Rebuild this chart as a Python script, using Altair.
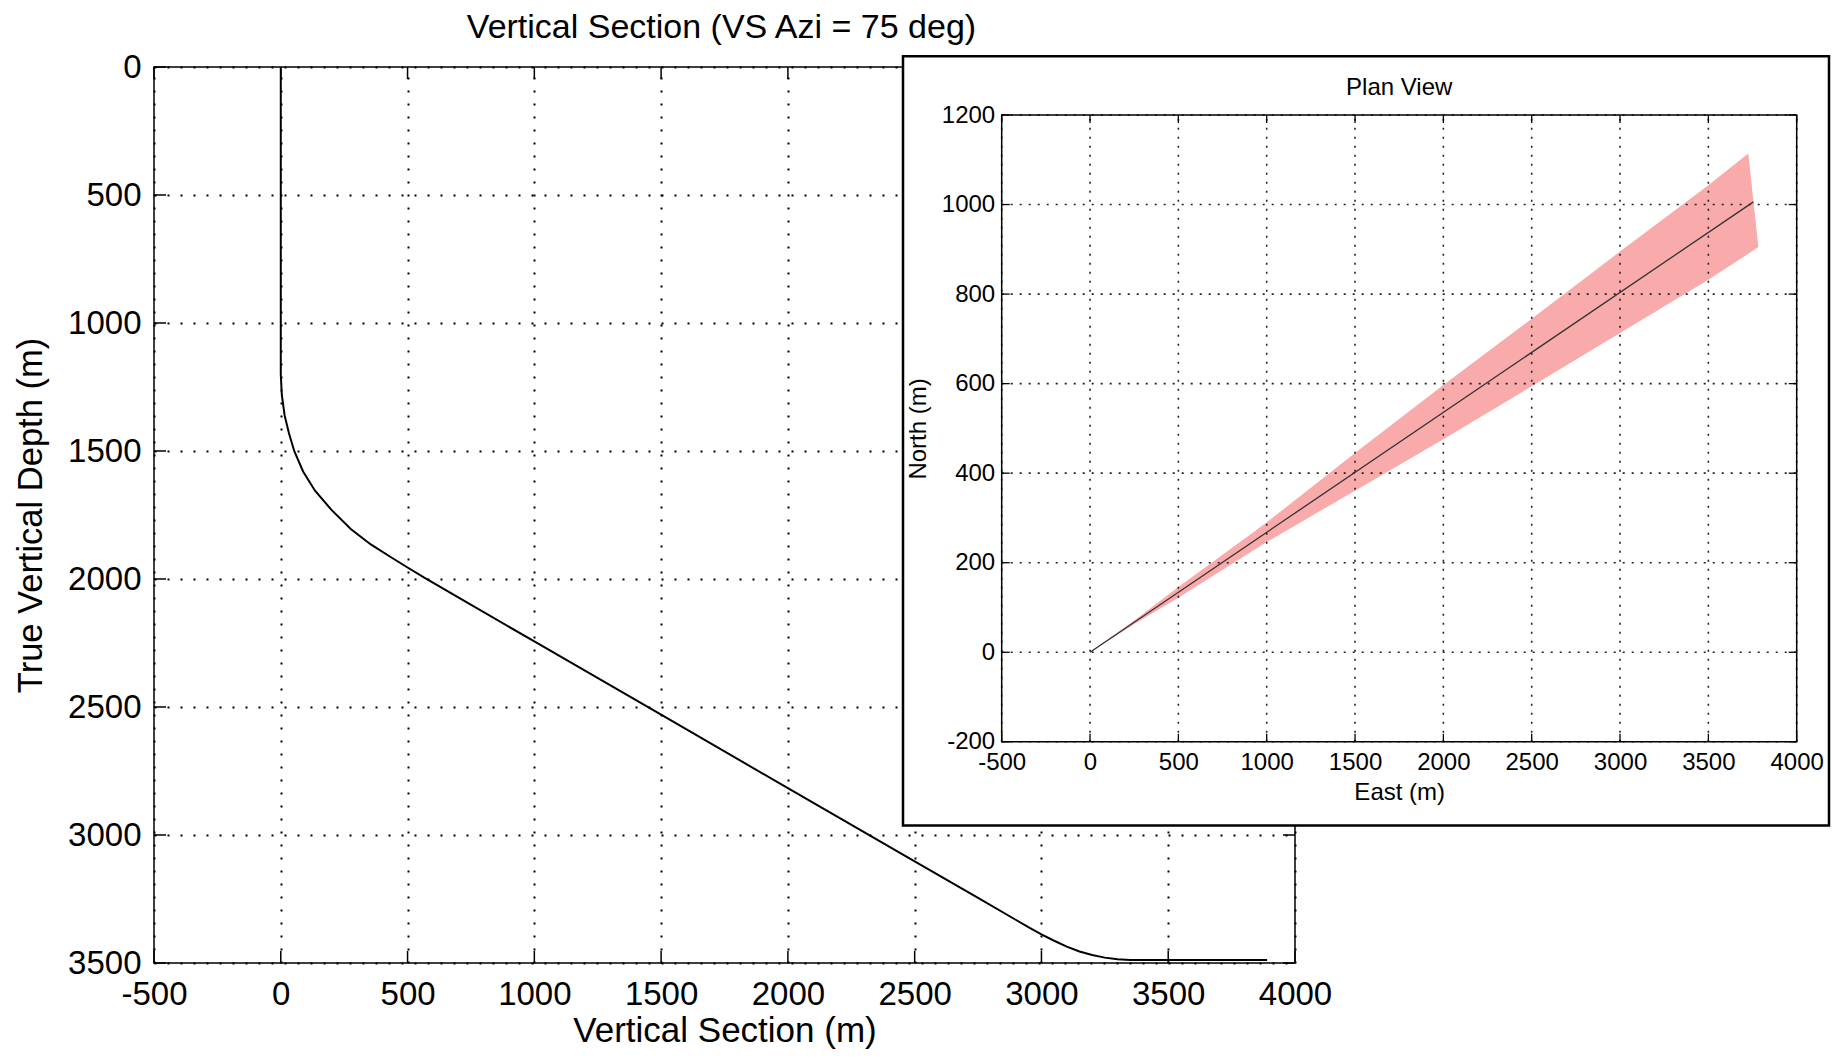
import altair as alt
import pandas as pd

# ---------------- data ----------------
vs_m = [0, 0, 4, 15, 32, 53, 88, 135, 200, 276, 355, 430, 500, 566, 700, 1000,
        1500, 2000, 2500, 2750, 2900, 2950, 3000, 3050, 3100, 3150, 3200, 3250,
        3300, 3350, 3890]
tvd_m = [0, 1200, 1280, 1360, 1430, 1500, 1580, 1655, 1730, 1805, 1865, 1912,
         1955, 1995, 2072, 2244, 2530, 2817, 3103, 3246, 3332, 3361, 3388, 3413,
         3436, 3455, 3469, 3479, 3485, 3488, 3488]

plan_east_m = [0, 3755]
plan_north_m = [0, 1006]

band_east_m = [0, 250, 500, 1000, 1500, 2000, 2500, 3000, 3500, 3726, 3783]
band_north_hi = [0, 71, 146, 290, 445, 597, 745, 895, 1043, 1114, 905]
band_north_lo = [0, 63, 122, 246, 361, 476, 594, 713, 832, 890, 905]

vs_ticks = [-500, 0, 500, 1000, 1500, 2000, 2500, 3000, 3500, 4000]
tvd_ticks = [0, 500, 1000, 1500, 2000, 2500, 3000, 3500]
east_ticks = [-500, 0, 500, 1000, 1500, 2000, 2500, 3000, 3500, 4000]
north_ticks = [-200, 0, 200, 400, 600, 800, 1000, 1200]

main_title = ["Vertical Section (VS Azi = 75 deg)"]
main_xtitle = "Vertical Section (m)"
main_ytitle = "True Vertical Depth (m)"
inset_title = ["Plan View"]
inset_xtitle = "East (m)"
inset_ytitle = "North (m)"

# ---------------- layout ----------------
FONT = "Liberation Sans"
W, H = 1141, 896
PAD_L, PAD_T = 146, 59
SVG_W, SVG_H = 1823, 1042
PAD_R = SVG_W - PAD_L - W
PAD_B = SVG_H - PAD_T - H

IX0, IX1 = 847.7, 1642.7      # inset plot area (view px)
IY0, IY1 = 674.8, 48.0        # bottom, top
BOX = dict(x0=749, x1=1675, y0=-10.7, y1=758.6)

PLAIN = "'' + datum.value"   # plain hyphen-minus labels

def mx():
    return alt.Scale(domain=[vs_ticks[0], vs_ticks[-1]], range=[0, W], nice=False, zero=False)
def my():
    return alt.Scale(domain=[tvd_ticks[0], tvd_ticks[-1]], range=[0, H], nice=False, zero=False)
def ix():
    return alt.Scale(domain=[east_ticks[0], east_ticks[-1]], range=[IX0, IX1], nice=False, zero=False)
def iy():
    return alt.Scale(domain=[north_ticks[0], north_ticks[-1]], range=[IY0, IY1], nice=False, zero=False)

# ---------------- main panel ----------------
df_main = pd.DataFrame({"vs": vs_m, "tvd": tvd_m, "i": list(range(len(vs_m)))})

x_axis_main = alt.Axis(
    values=vs_ticks, labelExpr=PLAIN, orient="bottom", grid=True, gridColor="black",
    gridDash=[2, 11], gridWidth=2, gridOpacity=1, domain=False, ticks=False, tickSize=0,
    labelFontSize=33, labelColor="black", labelPadding=31.5, labelBaseline="middle",
    labelFlush=False, labelOverlap=False, title=main_xtitle, titleFontSize=35,
    titleFontWeight="normal", titleColor="black", titleX=W / 2, titleY=67,
    titleBaseline="middle", titleAlign="center", zindex=0)
y_axis_main = alt.Axis(
    values=tvd_ticks, labelExpr=PLAIN, orient="left", grid=True, gridColor="black",
    gridDash=[2, 11], gridWidth=2, gridOpacity=1, domain=False, ticks=False, tickSize=0,
    labelFontSize=33, labelColor="black", labelPadding=13, labelBaseline="middle",
    labelFlush=False, labelOverlap=False, title=main_ytitle, titleFontSize=34.5,
    titleFontWeight="normal", titleColor="black", titleX=-123, titleY=H / 2,
    titleBaseline="middle", titleAlign="center", titleAngle=270, zindex=0)

main_line = alt.Chart(df_main).mark_line(color="black", strokeWidth=2).encode(
    x=alt.X("vs:Q", scale=mx(), axis=x_axis_main),
    y=alt.Y("tvd:Q", scale=my(), axis=y_axis_main),
    order="i:Q",
)

df_mframe = pd.DataFrame({"x0": [vs_ticks[0]], "x1": [vs_ticks[-1]],
                          "y0": [tvd_ticks[0]], "y1": [tvd_ticks[-1]]})
main_frame = alt.Chart(df_mframe).mark_rect(
    fillOpacity=0, stroke="black", strokeWidth=1.5).encode(
    x=alt.X("x0:Q", scale=mx(), axis=None), x2="x1:Q",
    y=alt.Y("y0:Q", scale=my(), axis=None), y2="y1:Q")

df_mxt = pd.DataFrame({"v": vs_ticks, "lo": tvd_ticks[-1], "hi": tvd_ticks[0]})
df_myt = pd.DataFrame({"v": tvd_ticks, "lo": vs_ticks[0], "hi": vs_ticks[-1]})
TL = 12
mt_bottom = alt.Chart(df_mxt).mark_rule(color="black", strokeWidth=1.5, y2Offset=-TL).encode(
    x=alt.X("v:Q", scale=mx(), axis=None), y=alt.Y("lo:Q", scale=my(), axis=None), y2="lo:Q")
mt_top = alt.Chart(df_mxt).mark_rule(color="black", strokeWidth=1.5, y2Offset=TL).encode(
    x=alt.X("v:Q", scale=mx(), axis=None), y=alt.Y("hi:Q", scale=my(), axis=None), y2="hi:Q")
mt_left = alt.Chart(df_myt).mark_rule(color="black", strokeWidth=1.5, x2Offset=TL).encode(
    y=alt.Y("v:Q", scale=my(), axis=None), x=alt.X("lo:Q", scale=mx(), axis=None), x2="lo:Q")
mt_right = alt.Chart(df_myt).mark_rule(color="black", strokeWidth=1.5, x2Offset=-TL).encode(
    y=alt.Y("v:Q", scale=my(), axis=None), x=alt.X("hi:Q", scale=mx(), axis=None), x2="hi:Q")

m_title = alt.Chart(pd.DataFrame({"t": main_title})).mark_text(
    fontSize=34, color="black", align="center", baseline="middle", font=FONT).encode(
    x=alt.value(W / 2 - 3), y=alt.value(-39.5), text="t:N")

# ---------------- inset (plan view) ----------------
box = alt.Chart(pd.DataFrame({"a": [0]})).mark_rect(
    fill="white", stroke="black", strokeWidth=2.5).encode(
    x=alt.value(BOX["x0"]), x2=alt.value(BOX["x1"]),
    y=alt.value(BOX["y0"]), y2=alt.value(BOX["y1"]))

x_axis_in = alt.Axis(
    values=east_ticks, labelExpr=PLAIN, orient="bottom", offset=IY0 - H, grid=False,
    domain=False, ticks=False, tickSize=0, labelFontSize=24, labelColor="black",
    labelPadding=20.5, labelBaseline="middle", labelFlush=False, labelOverlap=False,
    title=inset_xtitle, titleFontSize=24, titleFontWeight="normal", titleColor="black",
    titleX=(IX0 + IX1) / 2, titleY=51, titleBaseline="middle", titleAlign="center",
    zindex=2)
y_axis_in = alt.Axis(
    values=north_ticks, labelExpr=PLAIN, orient="left", offset=-IX0, grid=False,
    domain=False, ticks=False, tickSize=0, labelFontSize=24, labelColor="black",
    labelPadding=7, labelBaseline="middle", labelFlush=False, labelOverlap=False,
    title=inset_ytitle, titleFontSize=24, titleFontWeight="normal", titleColor="black",
    titleX=-83.5, titleY=(IY0 + IY1) / 2, titleBaseline="middle", titleAlign="center",
    titleAngle=270, zindex=2)

df_band = pd.DataFrame({"e": band_east_m, "hi": band_north_hi, "lo": band_north_lo})
band = alt.Chart(df_band).mark_area(color="#F9AAAA", opacity=1).encode(
    x=alt.X("e:Q", scale=ix(), axis=x_axis_in),
    y=alt.Y("hi:Q", scale=iy(), axis=y_axis_in),
    y2="lo:Q")

df_ivg = pd.DataFrame({"v": east_ticks, "lo": north_ticks[0], "hi": north_ticks[-1]})
df_ihg = pd.DataFrame({"v": north_ticks, "lo": east_ticks[0], "hi": east_ticks[-1]})
grid_v = alt.Chart(df_ivg).mark_rule(color="#222", strokeWidth=1.6, strokeDash=[2, 7]).encode(
    x=alt.X("v:Q", scale=ix(), axis=None), y=alt.Y("lo:Q", scale=iy(), axis=None), y2="hi:Q")
grid_h = alt.Chart(df_ihg).mark_rule(color="#222", strokeWidth=1.6, strokeDash=[2, 7]).encode(
    y=alt.Y("v:Q", scale=iy(), axis=None), x=alt.X("lo:Q", scale=ix(), axis=None), x2="hi:Q")

df_plan = pd.DataFrame({"e": plan_east_m, "n": plan_north_m})
plan_line = alt.Chart(df_plan).mark_line(color="#333", strokeWidth=1.3).encode(
    x=alt.X("e:Q", scale=ix(), axis=None), y=alt.Y("n:Q", scale=iy(), axis=None))

df_iframe = pd.DataFrame({"x0": [east_ticks[0]], "x1": [east_ticks[-1]],
                          "y0": [north_ticks[0]], "y1": [north_ticks[-1]]})
in_frame = alt.Chart(df_iframe).mark_rect(
    fillOpacity=0, stroke="black", strokeWidth=1.5).encode(
    x=alt.X("x0:Q", scale=ix(), axis=None), x2="x1:Q",
    y=alt.Y("y0:Q", scale=iy(), axis=None), y2="y1:Q")

IT = 8
it_bottom = alt.Chart(df_ivg).mark_rule(color="black", strokeWidth=1.3, y2Offset=-IT).encode(
    x=alt.X("v:Q", scale=ix(), axis=None), y=alt.Y("lo:Q", scale=iy(), axis=None), y2="lo:Q")
it_top = alt.Chart(df_ivg).mark_rule(color="black", strokeWidth=1.3, y2Offset=IT).encode(
    x=alt.X("v:Q", scale=ix(), axis=None), y=alt.Y("hi:Q", scale=iy(), axis=None), y2="hi:Q")
it_left = alt.Chart(df_ihg).mark_rule(color="black", strokeWidth=1.3, x2Offset=IT).encode(
    y=alt.Y("v:Q", scale=iy(), axis=None), x=alt.X("lo:Q", scale=ix(), axis=None), x2="lo:Q")
it_right = alt.Chart(df_ihg).mark_rule(color="black", strokeWidth=1.3, x2Offset=-IT).encode(
    y=alt.Y("v:Q", scale=iy(), axis=None), x=alt.X("hi:Q", scale=ix(), axis=None), x2="hi:Q")

in_title = alt.Chart(pd.DataFrame({"t": inset_title})).mark_text(
    fontSize=24, color="black", align="center", baseline="middle", font=FONT).encode(
    x=alt.value((IX0 + IX1) / 2), y=alt.value(21), text="t:N")

chart = alt.layer(
    main_line, main_frame, mt_bottom, mt_top, mt_left, mt_right, m_title,
    box, band, grid_v, grid_h, plan_line, in_frame,
    it_bottom, it_top, it_left, it_right, in_title,
).resolve_scale(
    x="independent", y="independent"
).properties(
    width=W, height=H,
    padding={"left": PAD_L, "top": PAD_T, "right": PAD_R, "bottom": PAD_B},
    autosize=alt.AutoSizeParams(type="none"),
).configure(font=FONT).configure_view(strokeWidth=0)

chart.save("out.html", embed_options={"renderer": "svg", "actions": False})
